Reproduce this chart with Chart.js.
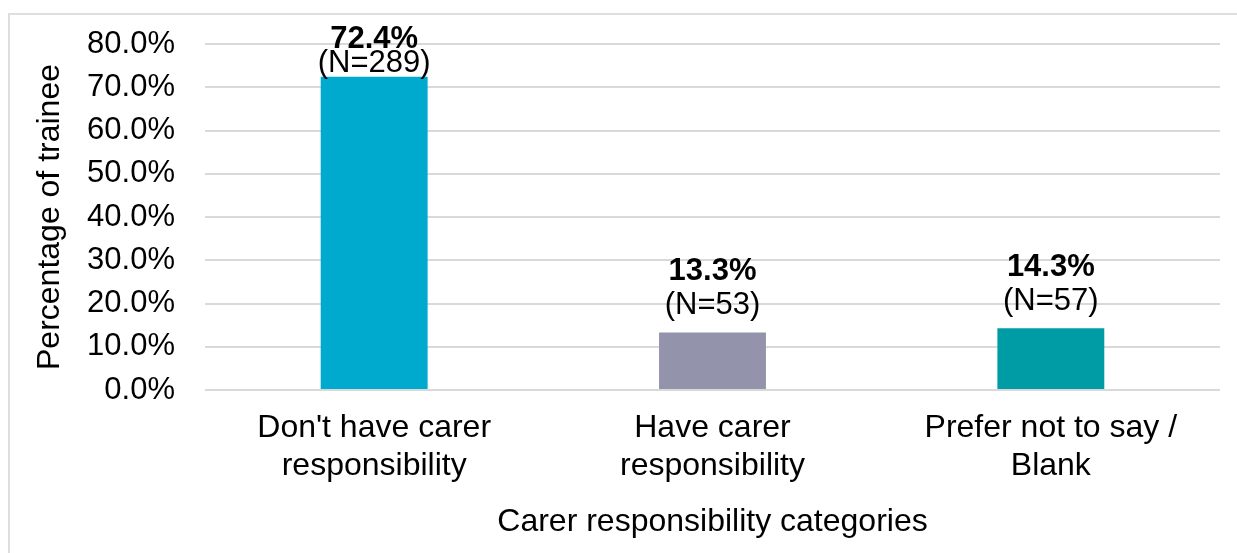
<!DOCTYPE html>
<html>
<head>
<meta charset="utf-8">
<script src="https://cdn.jsdelivr.net/npm/chart.js@4"></script>
<style>
  html, body { margin: 0; padding: 0; background: #fff; overflow: hidden; }
  #frame {
    position: absolute; left: 8px; top: 13px; width: 1240px; height: 550px;
    border: 2px solid #dedede; box-sizing: border-box;
  }
  #wrap { position: absolute; left: 0; top: 0; width: 1237px; height: 553px; }
</style>
</head>
<body>
<div id="frame"></div>
<div id="wrap"><canvas id="chart"></canvas></div>
<script>
const categories = [
    ["Don't have carer", "responsibility"],
    ["Have carer", "responsibility"],
    ["Prefer not to say /", "Blank"]
];
const percentages = [72.4, 13.3, 14.3];
const counts = [289, 53, 57];
const barColors = ['#00a9ce', '#9394ab', '#009ca6'];
const yTicks = [0, 10, 20, 30, 40, 50, 60, 70, 80];

// percentage in bold with the head count underneath, above every bar
const barLabels = {
    id: 'barLabels',
    afterDatasetsDraw(chart) {
        const ctx = chart.ctx;
        const meta = chart.getDatasetMeta(0);
        ctx.save();
        ctx.fillStyle = '#000';
        ctx.textAlign = 'center';
        ctx.textBaseline = 'middle';
        meta.data.forEach((bar, i) => {
            const top = bar.y;
            const pctY = Math.max(top - 61, 39);
            const nY = Math.max(top - 27, pctY + 24);
            ctx.font = 'bold 31px "Liberation Sans", Arial, sans-serif';
            ctx.fillText(percentages[i].toFixed(1) + '%', bar.x, pctY);
            ctx.font = '31px "Liberation Sans", Arial, sans-serif';
            ctx.fillText('(N=' + counts[i] + ')', bar.x, nY);
        });
        ctx.restore();
    }
};

const ctx = document.getElementById('chart').getContext('2d');
new Chart(ctx, {
    type: 'bar',
    data: {
        labels: categories,
        datasets: [{
            data: percentages,
            backgroundColor: barColors,
            borderWidth: 0,
            categoryPercentage: 1,
            barPercentage: 0.316
        }]
    },
    options: {
        responsive: true,
        maintainAspectRatio: false,
        animation: false,
        layout: { padding: { left: 8, right: 17, top: 44, bottom: 10 } },
        plugins: {
            legend: { display: false },
            tooltip: { enabled: false }
        },
        scales: {
            x: {
                afterFit(scale) { scale.height = 153; },
                grid: { display: false, drawTicks: false },
                border: { display: false },
                ticks: {
                    color: '#000',
                    padding: 20,
                    font: { family: '"Liberation Sans", Arial, sans-serif', size: 32, lineHeight: 1.16 }
                },
                title: {
                    display: true,
                    text: 'Carer responsibility categories',
                    color: '#000',
                    padding: { top: 21, bottom: 2 },
                    font: { family: '"Liberation Sans", Arial, sans-serif', size: 32 }
                }
            },
            y: {
                min: 0,
                max: 80,
                afterFit(scale) {
                    scale.width = 197;
                    // keep the tick padding from pushing the plot down
                    scale.paddingTop = 0;
                    scale.paddingBottom = 0;
                },
                afterBuildTicks(scale) {
                    scale.ticks = yTicks.map(v => ({ value: v }));
                },
                grid: { color: '#d9d9d9', lineWidth: 2, drawTicks: false },
                border: { display: false },
                ticks: {
                    color: '#000',
                    padding: 30,
                    font: { family: '"Liberation Sans", Arial, sans-serif', size: 31 },
                    callback: v => v.toFixed(1) + '%'
                },
                title: {
                    display: true,
                    text: 'Percentage of trainee',
                    color: '#000',
                    padding: { top: 23, bottom: 18 },
                    font: { family: '"Liberation Sans", Arial, sans-serif', size: 32 }
                }
            }
        }
    },
    plugins: [barLabels]
});
</script>
</body>
</html>
